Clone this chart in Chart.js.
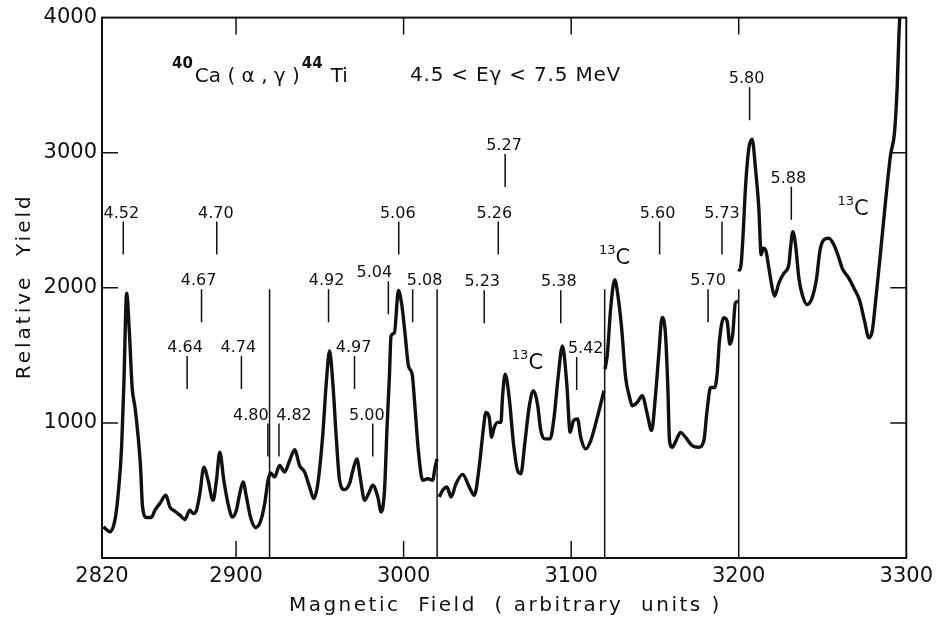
<!DOCTYPE html>
<html>
<head>
<meta charset="utf-8">
<script src="https://cdn.jsdelivr.net/npm/chart.js@4.4.1/dist/chart.umd.min.js"></script>
<style>
  html, body { margin: 0; padding: 0; background: #fff; }
  canvas { display: block; }
</style>
</head>
<body>
<canvas id="yieldChart" width="939" height="620"></canvas>
<script>
// magnetic field (arbitrary units) and relative yield
// null yield = break between runs
const FIELD = [
  2820.8, 2824.8, 2827.7, 2829.7, 2831.7, 2833.1, 2834.7, 2836.3, 2838.0, 2839.7,
  2841.6, 2843.0, 2844.2, 2846.6, 2849.5, 2851.6, 2854.5, 2858.1, 2860.5, 2863.5,
  2866.5, 2869.4, 2872.4, 2874.4, 2876.4, 2878.4, 2880.8, 2883.3, 2886.3, 2888.3,
  2890.3, 2892.7, 2895.2, 2897.8, 2900.2, 2902.2, 2904.2, 2906.2, 2908.6, 2911.7,
  2914.5, 2917.1, 2919.1, 2920.6, 2923.0, 2926.0, 2929.0, 2932.0, 2935.0, 2937.9,
  2940.9, 2943.9, 2946.4, 2948.8, 2951.8, 2953.8, 2955.8, 2957.8, 2959.8, 2961.8,
  2964.7, 2967.7, 2969.7, 2972.1, 2974.1, 2976.7, 2979.1, 2981.6, 2984.6, 2986.6,
  2988.6, 2990.2, 2991.5, 2992.5, 2994.5, 2996.9, 2998.9, 3000.9, 3002.9, 3005.1,
  3006.8, 3008.8, 3011.4, 3014.4, 3017.3, 3018.8, 3020.0, 3020.6,
  3021.3, 3023.3, 3025.9, 3028.3, 3031.3, 3035.2, 3039.2, 3042.2, 3045.1, 3047.7,
  3049.1, 3051.1, 3052.5, 3054.1, 3056.1, 3058.1, 3059.0, 3060.6, 3063.0, 3065.6,
  3068.0, 3070.0, 3072.3, 3074.9, 3077.5, 3079.9, 3081.9, 3084.3, 3087.4, 3089.8,
  3092.2, 3094.8, 3097.4, 3099.4, 3101.4, 3103.8, 3105.7, 3108.7, 3111.7, 3115.6,
  3119.6, 3120.0,
  3120.2, 3121.6, 3123.6, 3126.0, 3128.1, 3130.1, 3132.5, 3134.9, 3136.4, 3139.4,
  3142.4, 3145.4, 3148.0, 3150.4, 3152.3, 3154.3, 3156.3, 3157.7, 3158.7, 3160.3,
  3162.6, 3165.3, 3168.2, 3172.2, 3176.2, 3179.2, 3181.1, 3183.2, 3185.7, 3187.1,
  3188.5, 3191.1, 3193.1, 3194.7, 3196.4, 3198.0, 3199.6, 3199.8,
  3200.0, 3201.4, 3202.6, 3204.0, 3206.0, 3208.0, 3210.0, 3212.0, 3213.4, 3214.6,
  3216.0, 3218.0, 3220.0, 3221.4, 3224.0, 3227.0, 3229.9, 3230.9, 3232.3, 3233.9,
  3235.9, 3237.9, 3240.8, 3243.8, 3246.5, 3248.4, 3250.8, 3253.8, 3256.8, 3259.8,
  3261.7, 3265.7, 3268.7, 3272.3, 3275.1, 3277.7, 3279.7, 3281.7, 3284.7, 3287.6,
  3290.6, 3293.0, 3294.6, 3295.6, 3296.5
];
const YIELD = [
  231, 194, 280, 479, 820, 1311, 1960, 1680, 1262, 1115,
  894, 673, 378, 300, 300, 354, 403, 464, 378, 346,
  317, 285, 354, 329, 354, 477, 673, 575, 427, 575,
  783, 575, 403, 304, 354, 477, 562, 452, 304, 226,
  267, 403, 575, 630, 599, 685, 636, 722, 801, 685,
  636, 525, 440, 550, 919, 1287, 1532, 1287, 894, 575,
  506, 550, 648, 734, 599, 427, 477, 538, 452, 341,
  501, 992, 1336, 1643, 1667, 1980, 1876, 1655, 1422, 1360,
  1115, 796, 575, 587, 575, 673, 734, null,
  452, 501, 525, 452, 550, 619, 525, 464, 673, 967,
  1078, 1041, 894, 967, 1004, 1004, 1188, 1360, 1188, 845,
  648, 624, 845, 1115, 1238, 1140, 943, 882, 882, 1041,
  1336, 1569, 1287, 930, 1017, 1029, 894, 808, 869, 1041,
  1238, null,
  1397, 1508, 1851, 2060, 1925, 1704, 1336, 1188, 1127, 1151,
  1201, 1066, 943, 1213, 1508, 1780, 1655, 1262, 869, 820,
  869, 930, 894, 832, 820, 869, 1090, 1262, 1262, 1360,
  1606, 1778, 1753, 1582, 1655, 1888, 1900, null,
  2122, 2171, 2392, 2735, 3030, 3100, 2883, 2588, 2245, 2293,
  2282, 2146, 1999, 1938, 2036, 2109, 2171, 2293, 2416, 2318,
  2072, 1950, 1876, 1925, 2072, 2269, 2355, 2367, 2318, 2220,
  2146, 2072, 1999, 1901, 1753, 1630, 1680, 1901, 2269, 2637,
  2981, 3153, 3497, 3865, 4100
];

const X_TICKS = [2820, 2900, 3000, 3100, 3200, 3300];
const Y_TICKS = [1000, 2000, 3000, 4000];

// level energies (MeV) marked above the peaks
const LEVEL_NAMES = ['4.52', '4.64', '4.67', '4.70', '4.74', '4.80', '4.82', '4.92', '4.97', '5.00', '5.04', '5.06',
  '5.08', '5.23', '5.26', '5.27', '5.38', '5.42', '5.60', '5.70', '5.73', '5.80', '5.88'];
const LEVEL_FIELD = [2832.7, 2870.8, 2879.4, 2888.5, 2903.2, 2919.0, 2925.6, 2955.2, 2970.7, 2981.6, 2990.9, 2997.1,
  3005.4, 3048.1, 3056.5, 3060.6, 3093.8, 3103.3, 3152.8, 3181.7, 3190.0, 3206.5, 3231.4];
const LEVEL_TOP = [2490, 1495, 1989, 2490, 1495, 995, 995, 1989, 1495, 995, 2048, 2490,
  1989, 1982, 2490, 2991, 1982, 1488, 2490, 1989, 2490, 3485, 2748];

// 13C contaminant peaks
const C13_FIELD = [3064.6, 3116.6, 3259.0];
const C13_YIELD = [1400, 2173, 2542];

// run boundaries
const DIVIDERS = [2920, 3020, 3120, 3200];
const DIVIDER_TOP = 1990;

const INK = '#111';
const FONT = 'DejaVu Sans';

// label nudges in px (text is not always centred on its mark)
const LABEL_DX = {
  '4.52': -2, '4.64': -2, '4.67': -3, '4.70': -1, '4.74': -3, '4.80': -17, '4.82': 15,
  '4.92': -2, '4.97': -1, '5.00': -6, '5.04': -14, '5.06': -1, '5.08': 12, '5.23': -2,
  '5.26': -4, '5.27': -1, '5.38': -2, '5.42': 9, '5.60': -2, '5.80': -3, '5.88': -3
};

function spacedText(ctx, text, x, y, spacing, align) {
  ctx.letterSpacing = spacing + 'px';
  ctx.textAlign = align;
  ctx.fillText(text, x + (align === 'center' ? spacing / 2 : 0), y);
  ctx.letterSpacing = '0px';
}

const overlay = {
  id: 'overlay',
  beforeDatasetsDraw(chart) {
    const { ctx, chartArea: a, scales: { x, y } } = chart;
    ctx.save();
    ctx.strokeStyle = INK;
    ctx.lineCap = 'butt';

    ctx.lineWidth = 2;
    ctx.strokeRect(a.left, a.top, a.right - a.left, a.bottom - a.top);

    // inward tick marks
    ctx.lineWidth = 1.5;
    ctx.beginPath();
    for (const v of [1000, 2000, 3000]) {
      const py = y.getPixelForValue(v);
      ctx.moveTo(a.left, py); ctx.lineTo(a.left + 16, py);
      ctx.moveTo(a.right, py); ctx.lineTo(a.right - 16, py);
    }
    for (const v of [2900, 3000, 3100]) {
      const px = x.getPixelForValue(v);
      ctx.moveTo(px, a.bottom); ctx.lineTo(px, a.bottom - 17);
    }
    for (const v of [2900, 3000, 3100, 3200]) {
      const px = x.getPixelForValue(v);
      ctx.moveTo(px, a.top); ctx.lineTo(px, a.top + 17);
    }
    ctx.stroke();

    // run dividers
    ctx.beginPath();
    for (const v of DIVIDERS) {
      const px = x.getPixelForValue(v);
      ctx.moveTo(px, a.bottom);
      ctx.lineTo(px, y.getPixelForValue(DIVIDER_TOP));
    }
    ctx.stroke();

    // level marks
    ctx.beginPath();
    LEVEL_FIELD.forEach((f, i) => {
      const px = x.getPixelForValue(f);
      const py = y.getPixelForValue(LEVEL_TOP[i]);
      ctx.moveTo(px, py);
      ctx.lineTo(px, py + 33);
    });
    ctx.stroke();
    ctx.restore();
  },
  afterDraw(chart) {
    const { ctx, chartArea: a, scales: { x, y } } = chart;
    ctx.save();
    ctx.fillStyle = INK;
    ctx.textBaseline = 'alphabetic';

    // level labels
    ctx.font = '16px "' + FONT + '"';
    ctx.textAlign = 'center';
    LEVEL_NAMES.forEach((name, i) => {
      const px = x.getPixelForValue(LEVEL_FIELD[i]) + (LABEL_DX[name] || 0);
      const py = y.getPixelForValue(LEVEL_TOP[i]) - 4;
      ctx.fillText(name, px, py);
    });

    // 13C labels
    ctx.textAlign = 'left';
    C13_FIELD.forEach((f, i) => {
      const px = x.getPixelForValue(f);
      const py = y.getPixelForValue(C13_YIELD[i]);
      ctx.font = '13px "' + FONT + '"';
      ctx.fillText('13', px, py - 10);
      const w = ctx.measureText('13').width;
      ctx.font = '21px "' + FONT + '"';
      ctx.fillText('C', px + w, py);
    });

    // reaction label
    let cx = 172;
    ctx.font = 'bold 15px "' + FONT + '"';
    ctx.fillText('40', cx, 68);
    cx += ctx.measureText('40').width + 2;
    ctx.font = '20px "' + FONT + '"';
    ctx.fillText('Ca ( α , γ )', cx, 82);
    cx += ctx.measureText('Ca ( α , γ )').width + 2;
    ctx.font = 'bold 15px "' + FONT + '"';
    ctx.fillText('44', cx, 68);
    cx += ctx.measureText('44').width + 8;
    ctx.font = '20px "' + FONT + '"';
    ctx.fillText('Ti', cx, 82);

    spacedText(ctx, '4.5 < Eγ < 7.5 MeV', 410, 81, 0.8, 'left');

    // axis titles
    ctx.font = '20px "' + FONT + '"';
    spacedText(ctx, 'Magnetic  Field  ( arbitrary  units )', (a.left + a.right) / 2, 611, 2.5, 'center');
    ctx.translate(30, (a.top + a.bottom) / 2);
    ctx.rotate(-Math.PI / 2);
    spacedText(ctx, 'Relative  Yield', 0, 0, 3, 'center');
    ctx.restore();
  }
};

const points = FIELD.map((f, i) => ({ x: f, y: YIELD[i] }));

new Chart(document.getElementById('yieldChart').getContext('2d'), {
  type: 'line',
  data: {
    datasets: [{
      data: points,
      borderColor: INK,
      borderWidth: 3.4,
      pointRadius: 0,
      cubicInterpolationMode: 'monotone',
      spanGaps: false,
      fill: false
    }]
  },
  options: {
    responsive: false,
    animation: false,
    devicePixelRatio: 1,
    layout: { padding: { top: 15, right: 31, left: 0, bottom: 0 } },
    plugins: { legend: { display: false }, tooltip: { enabled: false } },
    scales: {
      x: {
        type: 'linear',
        min: 2820,
        max: 3300,
        afterBuildTicks: s => { s.ticks = X_TICKS.map(v => ({ value: v })); },
        afterFit: s => { s.height = 62; },
        grid: { display: false, drawTicks: false },
        border: { display: false },
        ticks: {
          autoSkip: false,
          maxRotation: 0,
          padding: 6,
          color: INK,
          font: { family: FONT, size: 21 },
          callback: v => String(v)
        }
      },
      y: {
        min: 0,
        max: 4000,
        afterBuildTicks: s => { s.ticks = Y_TICKS.map(v => ({ value: v })); },
        afterFit: s => { s.width = 102; },
        grid: { display: false, drawTicks: false },
        border: { display: false },
        ticks: {
          padding: 5,
          color: INK,
          font: { family: FONT, size: 21 },
          callback: v => String(v)
        }
      }
    }
  },
  plugins: [overlay]
});
</script>
</body>
</html>
